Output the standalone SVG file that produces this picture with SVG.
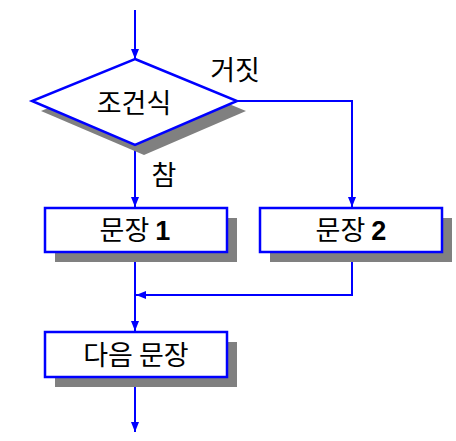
<svg xmlns="http://www.w3.org/2000/svg" width="456" height="441" viewBox="0 0 456 441">
<style>
.ln{stroke:#0000FF;stroke-width:2;fill:none}
.sh{fill:#808080}
.bx{fill:#FFFFFF;stroke:#0000FF;stroke-width:2.5}
.t{font-family:"Noto Sans CJK KR","Noto Sans",sans-serif;font-size:27px;font-weight:400;fill:#000;text-anchor:middle}
.d{font-family:"Liberation Sans",sans-serif;font-weight:bold}
</style>
<defs>
<marker id="ah" viewBox="0 0 10 10" refX="10" refY="5" markerWidth="10" markerHeight="10" markerUnits="userSpaceOnUse" orient="auto">
<path d="M0,1 L10,5 L0,9 Z" fill="#0000FF"/>
</marker>
</defs>
<g id="connectors">
<line class="ln" x1="135" y1="10" x2="135" y2="59" marker-end="url(#ah)"/>
<polyline class="ln" points="237,101 352,101 352,207" marker-end="url(#ah)"/>
<line class="ln" x1="135" y1="145" x2="135" y2="207" marker-end="url(#ah)"/>
<line class="ln" x1="135" y1="252" x2="135" y2="331" marker-end="url(#ah)"/>
<polyline class="ln" points="352,252 352,295 136,295" marker-end="url(#ah)"/>
<line class="ln" x1="135" y1="377" x2="135" y2="432" marker-end="url(#ah)"/>
</g>
<g id="cond">
<polygon class="sh" points="144,69 246,111 144,155 41,111"/>
<polygon class="bx" points="135,59 237,101 135,145 32,101"/>
<text class="t" x="134" y="113">조건식</text>
</g>
<g id="s1">
<rect class="sh" x="55" y="218" width="182" height="44"/>
<rect class="bx" x="45" y="208" width="182" height="44"/>
<text class="t" x="135" y="240">문장 <tspan class="d">1</tspan></text>
</g>
<g id="s2">
<rect class="sh" x="270" y="218" width="182" height="44"/>
<rect class="bx" x="260" y="208" width="182" height="44"/>
<text class="t" x="351" y="240">문장 <tspan class="d">2</tspan></text>
</g>
<g id="next">
<rect class="sh" x="55" y="342" width="182" height="45"/>
<rect class="bx" x="45" y="332" width="182" height="45"/>
<text class="t" x="136" y="365">다음 문장</text>
</g>
<g id="labels">
<text class="t" x="235" y="80">거짓</text>
<text class="t" x="164" y="185">참</text>
</g>
</svg>
